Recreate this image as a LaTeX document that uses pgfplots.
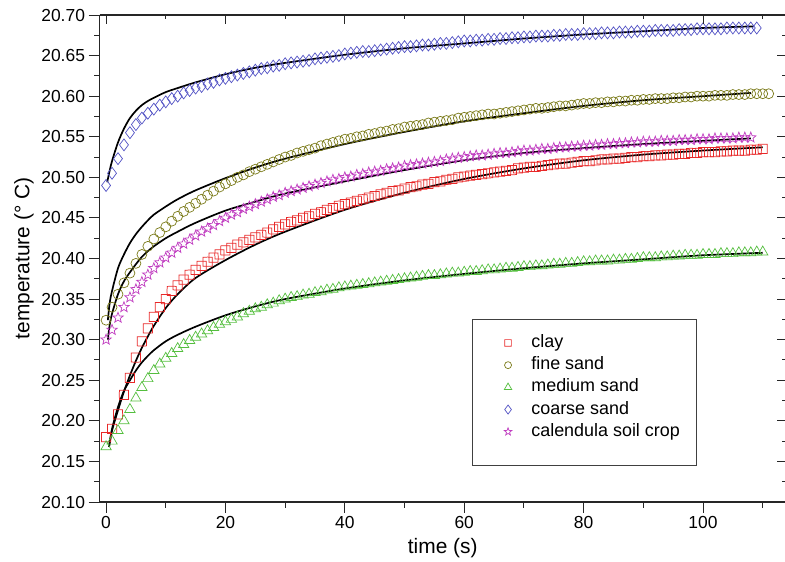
\documentclass[border=0pt]{standalone}
\usepackage{pgfplots}
\usepackage{pgfplotstable}
\pgfplotsset{compat=1.18}
\usepackage{fontspec}
\setmainfont{Liberation Sans}
\definecolor{clayc}{RGB}{232,40,40}
\definecolor{finec}{RGB}{122,122,24}
\definecolor{medc}{RGB}{84,190,62}
\definecolor{coarsec}{RGB}{82,82,196}
\definecolor{calc}{RGB}{192,60,192}
\pgfdeclareplotmark{psq}{%
 \pgfpathmoveto{\pgfqpoint{-\pgfplotmarksize}{-\pgfplotmarksize}}%
 \pgfpathlineto{\pgfqpoint{0pt}{-1.01\pgfplotmarksize}}%
 \pgfpathlineto{\pgfqpoint{\pgfplotmarksize}{-\pgfplotmarksize}}%
 \pgfpathlineto{\pgfqpoint{1.01\pgfplotmarksize}{0pt}}%
 \pgfpathlineto{\pgfqpoint{\pgfplotmarksize}{\pgfplotmarksize}}%
 \pgfpathlineto{\pgfqpoint{0pt}{1.01\pgfplotmarksize}}%
 \pgfpathlineto{\pgfqpoint{-\pgfplotmarksize}{\pgfplotmarksize}}%
 \pgfpathlineto{\pgfqpoint{-1.01\pgfplotmarksize}{0pt}}%
 \pgfpathclose\pgfusepathqstroke}
\pgfdeclareplotmark{pstar}{%
 \pgfpathmoveto{\pgfpointpolar{90}{\pgfplotmarksize}}%
 \pgfpathlineto{\pgfpointpolar{126}{0.42\pgfplotmarksize}}%
 \pgfpathlineto{\pgfpointpolar{162}{\pgfplotmarksize}}%
 \pgfpathlineto{\pgfpointpolar{198}{0.42\pgfplotmarksize}}%
 \pgfpathlineto{\pgfpointpolar{234}{\pgfplotmarksize}}%
 \pgfpathlineto{\pgfpointpolar{270}{0.42\pgfplotmarksize}}%
 \pgfpathlineto{\pgfpointpolar{306}{\pgfplotmarksize}}%
 \pgfpathlineto{\pgfpointpolar{342}{0.42\pgfplotmarksize}}%
 \pgfpathlineto{\pgfpointpolar{18}{\pgfplotmarksize}}%
 \pgfpathlineto{\pgfpointpolar{54}{0.42\pgfplotmarksize}}%
 \pgfpathclose\pgfusepathqstroke}

\pgfplotstableread{
t clay fine medium coarse cal
0 20.180 20.324 20.168 20.490 20.300
1 20.190 20.340 20.175 20.505 20.312
2 20.208 20.356 20.188 20.523 20.327
3 20.232 20.370 20.200 20.540 20.340
4 20.253 20.382 20.214 20.555 20.352
5 20.278 20.394 20.228 20.565 20.362
6 20.298 20.405 20.241 20.573 20.371
7 20.314 20.415 20.252 20.579 20.380
8 20.328 20.424 20.262 20.584 20.388
9 20.340 20.432 20.270 20.589 20.395
10 20.350 20.439 20.277 20.593 20.401
11 20.360 20.446 20.283 20.597 20.407
12 20.367 20.452 20.289 20.600 20.413
13 20.374 20.458 20.294 20.604 20.418
14 20.380 20.463 20.299 20.607 20.423
15 20.386 20.468 20.303 20.610 20.428
16 20.391 20.473 20.307 20.612 20.433
17 20.396 20.478 20.311 20.615 20.437
18 20.401 20.483 20.315 20.617 20.441
19 20.405 20.488 20.319 20.620 20.446
20 20.410 20.492 20.322 20.622 20.450
21 20.413 20.496 20.325 20.624 20.454
22 20.417 20.500 20.328 20.626 20.457
23 20.420 20.503 20.332 20.628 20.461
24 20.423 20.507 20.335 20.630 20.464
25 20.426 20.510 20.338 20.632 20.467
26 20.429 20.513 20.340 20.634 20.470
27 20.432 20.516 20.343 20.635 20.473
28 20.436 20.519 20.345 20.637 20.476
29 20.439 20.522 20.348 20.638 20.478
30 20.442 20.525 20.350 20.640 20.481
31 20.445 20.527 20.352 20.641 20.483
32 20.447 20.530 20.353 20.642 20.485
33 20.450 20.532 20.355 20.643 20.487
34 20.452 20.534 20.356 20.644 20.489
35 20.455 20.536 20.358 20.646 20.491
36 20.457 20.539 20.359 20.647 20.493
37 20.460 20.541 20.361 20.648 20.495
38 20.462 20.543 20.362 20.649 20.497
39 20.465 20.545 20.364 20.650 20.498
40 20.467 20.547 20.365 20.652 20.500
41 20.469 20.548 20.366 20.653 20.501
42 20.471 20.550 20.367 20.654 20.503
43 20.473 20.551 20.368 20.655 20.504
44 20.475 20.553 20.369 20.655 20.506
45 20.477 20.554 20.370 20.656 20.507
46 20.479 20.556 20.371 20.657 20.508
47 20.481 20.557 20.372 20.658 20.510
48 20.483 20.559 20.373 20.659 20.511
49 20.484 20.560 20.374 20.660 20.512
50 20.486 20.562 20.375 20.661 20.514
51 20.488 20.563 20.376 20.661 20.515
52 20.489 20.564 20.377 20.662 20.516
53 20.491 20.565 20.378 20.663 20.517
54 20.492 20.567 20.379 20.663 20.518
55 20.494 20.568 20.379 20.664 20.519
56 20.495 20.569 20.380 20.665 20.520
57 20.497 20.570 20.381 20.665 20.522
58 20.498 20.571 20.382 20.666 20.523
59 20.500 20.573 20.382 20.667 20.524
60 20.501 20.574 20.383 20.668 20.525
61 20.502 20.575 20.384 20.668 20.526
62 20.503 20.576 20.384 20.669 20.527
63 20.504 20.577 20.385 20.669 20.527
64 20.505 20.578 20.386 20.670 20.528
65 20.506 20.578 20.386 20.670 20.529
66 20.507 20.579 20.387 20.671 20.530
67 20.508 20.580 20.388 20.671 20.530
68 20.509 20.581 20.388 20.672 20.531
69 20.511 20.582 20.389 20.672 20.532
70 20.512 20.583 20.390 20.673 20.533
71 20.513 20.584 20.390 20.673 20.533
72 20.513 20.585 20.391 20.674 20.534
73 20.514 20.585 20.391 20.674 20.535
74 20.515 20.586 20.392 20.674 20.535
75 20.516 20.587 20.393 20.675 20.536
76 20.517 20.588 20.393 20.675 20.537
77 20.517 20.588 20.394 20.676 20.537
78 20.518 20.589 20.394 20.676 20.538
79 20.519 20.590 20.395 20.676 20.538
80 20.520 20.591 20.396 20.677 20.539
81 20.520 20.591 20.396 20.677 20.539
82 20.521 20.592 20.397 20.677 20.540
83 20.522 20.592 20.397 20.678 20.540
84 20.522 20.593 20.397 20.678 20.541
85 20.523 20.593 20.398 20.678 20.541
86 20.523 20.594 20.398 20.679 20.542
87 20.524 20.594 20.399 20.679 20.542
88 20.525 20.595 20.399 20.679 20.543
89 20.525 20.595 20.400 20.680 20.543
90 20.526 20.596 20.401 20.680 20.544
91 20.526 20.596 20.401 20.680 20.544
92 20.527 20.597 20.401 20.681 20.544
93 20.527 20.597 20.402 20.681 20.545
94 20.528 20.597 20.402 20.681 20.545
95 20.528 20.598 20.403 20.681 20.545
96 20.529 20.598 20.403 20.682 20.546
97 20.529 20.599 20.404 20.682 20.546
98 20.530 20.599 20.404 20.682 20.546
99 20.530 20.600 20.404 20.683 20.547
100 20.531 20.600 20.405 20.683 20.547
101 20.531 20.600 20.405 20.683 20.547
102 20.531 20.601 20.405 20.683 20.548
103 20.532 20.601 20.406 20.683 20.548
104 20.532 20.601 20.406 20.684 20.548
105 20.533 20.602 20.406 20.684 20.548
106 20.533 20.602 20.407 20.684 20.549
107 20.533 20.602 20.407 20.684 20.549
108 20.534 20.603 20.407 20.684 20.549
109 20.534 20.603 20.408 20.684 nan
110 20.535 20.603 20.408 nan nan
111 nan 20.603 nan nan nan
}\data

\pgfplotstableread{
t clay medium
0.5 20.168 20.168
1 20.188 20.190
2 20.213 20.217
3 20.236 20.237
4 20.256 20.250
5 20.274 20.262
6 20.290 20.272
7 20.304 20.280
8 20.317 20.287
10 20.339 20.298
12 20.356 20.306
15 20.376 20.316
20 20.398 20.330
25 20.417 20.341
30 20.433 20.350
40 20.460 20.363
50 20.481 20.373
60 20.498 20.381
70 20.511 20.388
80 20.521 20.394
90 20.528 20.399
100 20.533 20.404
110 20.537 20.407
}\fitA

\pgfplotstableread{
t fine cal
0.3 20.324 20.300
0.6 20.345 20.318
1 20.360 20.332
2 20.388 20.356
3 20.405 20.372
4 20.419 20.383
5 20.430 20.393
6 20.439 20.402
7 20.447 20.409
8 20.454 20.415
10 20.464 20.425
12 20.473 20.433
15 20.484 20.444
20 20.499 20.459
25 20.512 20.470
30 20.523 20.480
40 20.541 20.495
50 20.556 20.509
60 20.569 20.521
70 20.579 20.530
80 20.588 20.536
90 20.595 20.541
100 20.600 20.545
108 20.604 20.548
}\fitB

\pgfplotstableread{
t coarse
0.2 20.494
0.5 20.505
1 20.520
2 20.543
3 20.560
4 20.573
5 20.582
6 20.589
7 20.594
8 20.598
10 20.605
12 20.610
15 20.617
20 20.627
25 20.635
30 20.641
40 20.651
50 20.659
60 20.665
70 20.671
80 20.676
90 20.680
100 20.684
108.5 20.686
}\fitC

\pgfplotsset{
  common/.style={
    width=686.5bp, height=487bp, scale only axis,
    xmin=-1.1, xmax=113.9, ymin=20.1, ymax=20.7,
    xtick={0,20,40,60,80,100},
    minor xtick={10,30,50,70,90,110},
    ytick={20.10,20.15,20.20,20.25,20.30,20.35,20.40,20.45,20.50,20.55,20.60,20.65,20.70},
    minor ytick={20.125,20.175,20.225,20.275,20.325,20.375,20.425,20.475,20.525,20.575,20.625,20.675},
    axis line style={-, line width=1.1pt, black!85},
    tick style={line width=1pt, black!85},
  },
  limg/.style={legend image code/.code={\path[draw=none] (-22bp,-1bp) rectangle (6bp,1bp); \draw[##1] plot coordinates {(0bp,0bp)};}},
  fitline/.style={forget plot, black, line width=1.7pt, smooth, mark=none},
}

\begin{document}
\begin{tikzpicture}
\begin{axis}[common,
  axis x line=bottom, axis y line=left,
  axis line style={-},
  tick align=outside,
  major tick length=11bp, minor tick length=5.5bp,
  /pgf/number format/assume math mode=true,
  tick label style={font=\fontsize{17.5}{20}\selectfont},
  yticklabel style={/pgf/number format/.cd, fixed, fixed zerofill, precision=2},
  xticklabel style={/pgf/number format/.cd, fixed, precision=0},
  xlabel={time (s)}, ylabel={temperature (° C)},
  label style={font=\fontsize{21}{24}\selectfont},
  xlabel style={at={(axis description cs:0.5,-0.0945)}, anchor=center},
  ylabel style={at={(axis description cs:-0.110,0.5)}, anchor=center},
  legend style={at={(rel axis cs:0.5426,0.3758)}, anchor=north west,
    draw=black!75, line width=0.7pt, font=\fontsize{18}{21}\selectfont,
    inner xsep=13.7bp, inner ysep=12.5bp, row sep=0pt, column sep=14.3bp,
    nodes={inner xsep=3bp, inner ysep=2.6bp, text height=13bp, text depth=4bp}},
  legend cell align=left,
]
\coordinate (BL) at (rel axis cs:0,0);
\addplot[forget plot, only marks, clayc, mark=psq, mark size=4.6pt, mark options={line width=0.75pt}] table[x=t, y=clay] {\data};
\addplot[forget plot, only marks, finec, mark=o, mark size=5pt, mark options={line width=0.7pt}] table[x=t, y=fine] {\data};
\addplot[forget plot, only marks, medc, mark=triangle, mark size=6pt, mark options={line width=0.7pt}] table[x=t, y=medium] {\data};
\addplot[forget plot, only marks, coarsec, mark=diamond, mark size=6pt, mark options={line width=0.7pt}] table[x=t, y=coarse] {\data};
\addplot[forget plot, only marks, calc, mark=pstar, mark size=5.5pt, mark options={line width=0.7pt}] table[x=t, y=cal] {\data};
\addplot[fitline] table[x=t, y=clay] {\fitA};
\addplot[fitline] table[x=t, y=medium] {\fitA};
\addplot[fitline] table[x=t, y=fine] {\fitB};
\addplot[fitline] table[x=t, y=cal] {\fitB};
\addplot[fitline] table[x=t, y=coarse] {\fitC};
\addlegendimage{only marks, clayc, mark=psq, mark size=3.3pt, mark options={line width=0.7pt}, limg}
\addlegendentry{clay}
\addlegendimage{only marks, finec, mark=o, mark size=3.5pt, mark options={line width=0.7pt}, limg}
\addlegendentry{fine sand}
\addlegendimage{only marks, medc, mark=triangle, mark size=4.3pt, mark options={line width=0.7pt}, limg}
\addlegendentry{medium sand}
\addlegendimage{only marks, coarsec, mark=diamond, mark size=4.5pt, mark options={line width=0.7pt}, limg}
\addlegendentry{coarse sand}
\addlegendimage{only marks, calc, mark=pstar, mark size=4pt, mark options={line width=0.7pt}, limg}
\addlegendentry{calendula soil crop}
\addlegendimage{empty legend}
\addlegendentry[text height=5bp, text depth=0bp]{}
\end{axis}
\begin{axis}[common,
  axis x line=top, axis y line=right,
  axis line style={-},
  tick align=inside,
  major tick length=9bp, minor tick length=4.5bp,
  xticklabels={}, yticklabels={},
]
\end{axis}
\pgfresetboundingbox
\path (BL) ++(-99.5bp,-60bp) rectangle ++(785bp,562bp);
\end{tikzpicture}
\end{document}
